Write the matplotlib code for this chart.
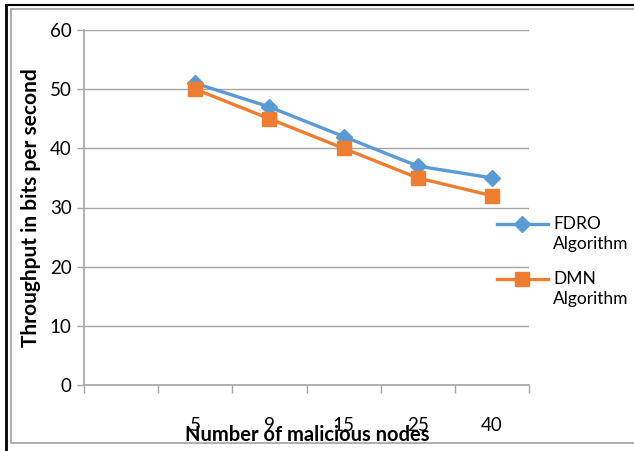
import numpy as np
import matplotlib.pyplot as plt
from matplotlib.lines import Line2D

plt.rcParams["font.family"] = ["Lato", "DejaVu Sans"]
plt.rcParams["font.size"] = 13.5

categories = ["", "5", "9", "15", "25", "40"]
fdro = [np.nan, 51, 47, 42, 37, 35]
dmn = [np.nan, 50, 45, 40, 35, 32]
yticks = [0, 10, 20, 30, 40, 50, 60]
series_names = ["FDRO\nAlgorithm", "DMN\nAlgorithm"]

blue = "#5B9BD5"
orange = "#ED7D31"
grid_gray = "#A6A6A6"

fig = plt.figure(figsize=(6.34, 4.51), dpi=100)
ax = fig.add_axes([84 / 634, 1 - 385 / 451, 445 / 634, 355 / 451])

x = np.arange(len(categories)) + 0.5
ax.plot(x, fdro, color=blue, lw=2.4, marker="D", ms=8, zorder=3)
ax.plot(x, dmn, color=orange, lw=2.4, marker="s", ms=9.5, zorder=3)

ax.set_xlim(0, len(categories))
ax.set_ylim(0, 60)
ax.set_yticks(yticks)
ax.yaxis.grid(True, color=grid_gray, lw=1)
ax.set_axisbelow(True)

ax.set_xticks(x)
ax.set_xticklabels(categories)
ax.set_xticks(np.arange(len(categories) + 1), minor=True)
ax.tick_params(axis="x", which="major", length=0, pad=23)
ax.tick_params(axis="x", which="minor", length=6, color=grid_gray, width=1)
ax.tick_params(axis="y", length=5, color=grid_gray, width=1, pad=4)

for s in ["top", "right"]:
    ax.spines[s].set_visible(False)
for s in ["left", "bottom"]:
    ax.spines[s].set_color(grid_gray)
    ax.spines[s].set_linewidth(1.2)

fig.text(307 / 634, 1 - 435 / 451, "Number of malicious nodes", ha="center", va="center",
         fontsize=14.5, fontweight="bold")
fig.text(31 / 634, 1 - 208 / 451, "Throughput in bits per second", ha="center", va="center",
         rotation=90, fontsize=15, fontweight="bold")

# legend entries drawn by hand: handle sits level with the first text line
legend_rows = [(224, blue, "D", 8), (279, orange, "s", 9.5)]
for (ypix, col, mk, size), name in zip(legend_rows, series_names):
    yf = 1 - ypix / 451
    fig.add_artist(Line2D([497 / 634, 548 / 634], [yf, yf], transform=fig.transFigure,
                          color=col, lw=2.4))
    fig.add_artist(Line2D([522 / 634], [yf], transform=fig.transFigure, color=col,
                          marker=mk, ms=size, lw=0))
    fig.text(553 / 634, yf + 8 / 451, name, ha="left", va="top", fontsize=12.5,
             linespacing=1.3)

# chart border: black at left and top, gray inner frame
gray_frame = "#A0A0A0"
x0, y0, y1 = 11 / 634, 1 - 443 / 451, 1 - 9 / 451
fig.add_artist(Line2D([x0, x0, 1], [y1, y0, y0], transform=fig.transFigure,
                      color=gray_frame, lw=1.2))
fig.add_artist(Line2D([x0, 1], [y1, y1], transform=fig.transFigure,
                      color=gray_frame, lw=1.2))
fig.add_artist(Line2D([6 / 634, 6 / 634], [0, 1 - 5 / 451], transform=fig.transFigure,
                      color="black", lw=2))
fig.add_artist(Line2D([6 / 634, 1], [1 - 5 / 451, 1 - 5 / 451], transform=fig.transFigure,
                      color="black", lw=1.5))

fig.savefig("out.png", dpi=100)
